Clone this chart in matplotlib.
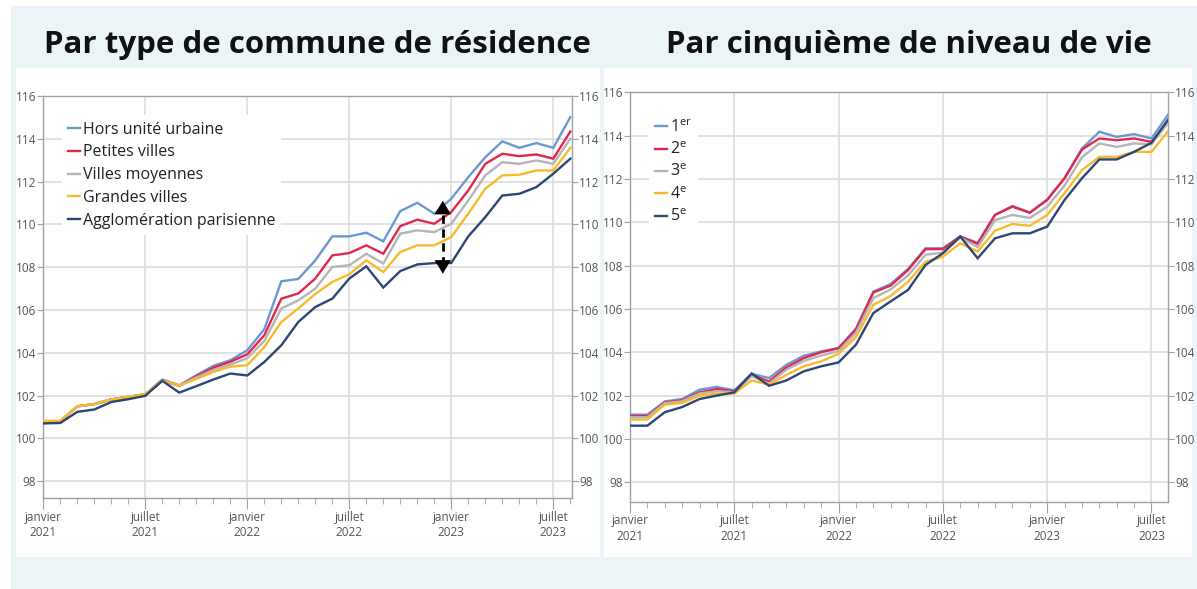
import matplotlib
matplotlib.use("Agg")
import matplotlib.pyplot as plt
from matplotlib.patches import Rectangle
from matplotlib.ticker import FixedLocator, MultipleLocator

plt.rcParams['font.family'] = ['Open Sans', 'DejaVu Sans']

months = list(range(32))  # janvier 2021 .. août 2023
major_pos = [0, 6, 12, 18, 24, 30]
major_labels = ["janvier\n2021", "juillet\n2021", "janvier\n2022",
                "juillet\n2022", "janvier\n2023", "juillet\n2023"]
yticks = [98, 100, 102, 104, 106, 108, 110, 112, 114, 116]

# --- Par type de commune de résidence ---
commune_names = ["Hors unité urbaine", "Petites villes", "Villes moyennes",
                 "Grandes villes", "Agglomération parisienne"]
hors_uu = [100.8, 100.8, 101.5, 101.6, 101.82, 101.94, 102.06, 102.75, 102.48, 102.95,
           103.39, 103.65, 104.12, 105.1, 107.34, 107.45, 108.32, 109.44, 109.44, 109.61,
           109.21, 110.62, 111.01, 110.5, 111.2, 112.21, 113.14, 113.88, 113.58, 113.8,
           113.58, 115.01]
petites = [100.8, 100.8, 101.5, 101.6, 101.82, 101.94, 102.06, 102.72, 102.45, 102.9,
           103.3, 103.58, 103.93, 104.82, 106.53, 106.77, 107.47, 108.55, 108.66, 109.02,
           108.63, 109.92, 110.22, 110.03, 110.58, 111.59, 112.83, 113.3, 113.19, 113.27,
           113.07, 114.34]
moyennes = [100.8, 100.8, 101.5, 101.6, 101.82, 101.94, 102.06, 102.7, 102.45, 102.85,
            103.2, 103.45, 103.75, 104.55, 106.07, 106.45, 107.0, 108.01, 108.09, 108.63,
            108.17, 109.57, 109.72, 109.64, 110.03, 111.12, 112.29, 112.91, 112.83, 112.99,
            112.83, 114.0]
grandes = [100.82, 100.82, 101.5, 101.6, 101.82, 101.94, 102.06, 102.7, 102.48, 102.78,
           103.1, 103.35, 103.42, 104.27, 105.44, 106.07, 106.75, 107.31, 107.67, 108.32,
           107.77, 108.71, 109.02, 109.02, 109.41, 110.5, 111.67, 112.29, 112.32, 112.52,
           112.52, 113.58]
paris = [100.70, 100.72, 101.24, 101.35, 101.70, 101.83, 101.99, 102.69, 102.14, 102.44,
         102.75, 103.03, 102.94, 103.57, 104.35, 105.44, 106.14, 106.53, 107.47, 108.04,
         107.05, 107.82, 108.13, 108.19, 108.2, 109.44, 110.34, 111.35, 111.43, 111.74,
         112.37, 113.07]
arrow_x = 23.5
arrow_y = (107.7, 111.1)

# --- Par cinquième de niveau de vie ---
quint_names = ["$\\mathregular{1^{er}}$", "$\\mathregular{2^{e}}$", "$\\mathregular{3^{e}}$",
               "$\\mathregular{4^{e}}$", "$\\mathregular{5^{e}}$"]
q1 = [101.12, 101.12, 101.73, 101.84, 102.27, 102.4, 102.24, 103.0, 102.81, 103.42,
      103.84, 104.04, 104.19, 105.1, 106.8, 107.15, 107.85, 108.8, 108.8, 109.35,
      109.05, 110.35, 110.75, 110.45, 111.05, 112.05, 113.4, 114.18, 113.94, 114.07,
      113.87, 115.02]
q2 = [101.05, 101.05, 101.68, 101.78, 102.15, 102.3, 102.2, 102.95, 102.65, 103.3,
      103.73, 104.0, 104.19, 105.04, 106.76, 107.08, 107.8, 108.76, 108.76, 109.34,
      109.0, 110.34, 110.72, 110.44, 111.03, 112.03, 113.36, 113.87, 113.79, 113.87,
      113.71, 114.65]
q3 = [101.0, 101.0, 101.65, 101.74, 102.1, 102.2, 102.15, 102.9, 102.55, 103.2,
      103.6, 103.85, 104.05, 104.9, 106.5, 106.9, 107.55, 108.5, 108.6, 109.3,
      108.85, 110.1, 110.34, 110.2, 110.72, 111.7, 113.0, 113.64, 113.48, 113.64,
      113.6, 114.64]
q4 = [100.89, 100.9, 101.58, 101.66, 102.0, 102.09, 102.09, 102.7, 102.5, 102.96,
      103.35, 103.58, 103.93, 104.7, 106.19, 106.6, 107.26, 108.18, 108.41, 109.03,
      108.65, 109.61, 109.92, 109.84, 110.34, 111.34, 112.41, 113.02, 113.02, 113.25,
      113.25, 114.25]
q5 = [100.61, 100.61, 101.23, 101.47, 101.84, 102.0, 102.15, 103.02, 102.45, 102.7,
      103.12, 103.35, 103.53, 104.35, 105.81, 106.35, 106.88, 108.03, 108.57, 109.34,
      108.34, 109.26, 109.49, 109.49, 109.8, 111.03, 112.03, 112.9, 112.9, 113.25,
      113.67, 114.79]

colors = ["#6b98d4", "#e3264e", "#b5b5b5", "#f7bb2a", "#2d4673"]
grid_c = "#dcdcdc"
spine_c = "#a0a0a0"
text_c = "#555555"
bg_c = "#ebf4f6"

fig = plt.figure(figsize=(11.97, 5.89), dpi=100)
fig.patch.set_facecolor("white")
W, H = 1197, 589


def px_rect(x0, y0, x1, y1, color, z=0):
    fig.patches.append(Rectangle((x0 / W, 1 - y1 / H), (x1 - x0) / W, (y1 - y0) / H,
                                 transform=fig.transFigure, facecolor=color,
                                 edgecolor="none", zorder=z))


px_rect(11, 6, 1197, 589, bg_c, z=-10)
px_rect(16, 68, 600, 557, "white", z=-9)
px_rect(604, 68, 1192, 557, "white", z=-9)

fig.text(317 / W, 1 - 45 / H, "Par type de commune de résidence", ha="center", va="center",
         fontsize=22.5, fontweight="bold", color="#111111")
fig.text(909 / W, 1 - 45 / H, "Par cinquième de niveau de vie", ha="center", va="center",
         fontsize=22.5, fontweight="bold", color="#111111")


def setup(ax, ylim, xlim):
    ax.set_facecolor("none")
    ax.set_xlim(*xlim)
    ax.set_ylim(*ylim)
    ax.xaxis.set_major_locator(FixedLocator(major_pos))
    ax.set_xticklabels(major_labels)
    ax.xaxis.set_minor_locator(MultipleLocator(1))
    ax.set_yticks(yticks)
    ax.grid(True, which="major", color=grid_c, lw=1.2, zorder=0)
    for s in ax.spines.values():
        s.set_color(spine_c)
        s.set_linewidth(1.0)
    ax.tick_params(axis="x", which="major", length=8, color=spine_c, labelsize=8.5,
                   labelcolor=text_c, pad=1)
    ax.tick_params(axis="x", which="minor", length=4, color=spine_c)
    ax.tick_params(axis="y", which="major", length=4, color=spine_c, labelsize=8.5,
                   labelcolor=text_c, left=True, right=True, labelleft=True,
                   labelright=True, pad=1)
    for lab in ax.get_xticklabels():
        lab.set_linespacing(1.25)


def legend(ax, anchor, spacing):
    leg = ax.legend(loc="upper left", bbox_to_anchor=anchor, fontsize=11.5,
                    frameon=True, facecolor="white", edgecolor="none", framealpha=1,
                    fancybox=False, handlelength=0.75, handletextpad=0.15,
                    labelspacing=spacing, borderpad=0.4, borderaxespad=0)
    for t in leg.get_texts():
        t.set_color("#222222")
    return leg


axL = fig.add_axes([43.3 / W, 1 - 498.3 / H, (572 - 43.3) / W, (498.3 - 96) / H])
setup(axL, (97.2, 116), (0, 31.1))
for vals, c, n in zip([hors_uu, petites, moyennes, grandes, paris], colors, commune_names):
    axL.plot(months, vals, color=c, lw=1.7, label=n, zorder=3, solid_joinstyle="miter")
axL.plot([arrow_x, arrow_x], [arrow_y[0] + 0.4, arrow_y[1] - 0.4], color="black",
         lw=2, ls=(0, (3, 2)), zorder=5)
for tip, start in [(arrow_y[1], arrow_y[1] - 0.6), (arrow_y[0], arrow_y[0] + 0.6)]:
    axL.annotate("", xy=(arrow_x, tip), xytext=(arrow_x, start),
                 arrowprops=dict(arrowstyle="-|>,head_length=0.9,head_width=0.55",
                                 color="black", lw=0.5, shrinkA=0, shrinkB=0), zorder=6)
legend(axL, (0.035, 0.952), 0.42)

axR = fig.add_axes([630 / W, 1 - 501.7 / H, (1168 - 630) / W, (501.7 - 92.3) / H])
setup(axR, (97.1, 116), (0, 30.95))
for vals, c, n in zip([q1, q2, q3, q4, q5], colors, quint_names):
    axR.plot(months, vals, color=c, lw=1.7, label=n, zorder=3, solid_joinstyle="miter")
legend(axR, (0.035, 0.95), 0.36)

fig.savefig("out.png", dpi=100)
